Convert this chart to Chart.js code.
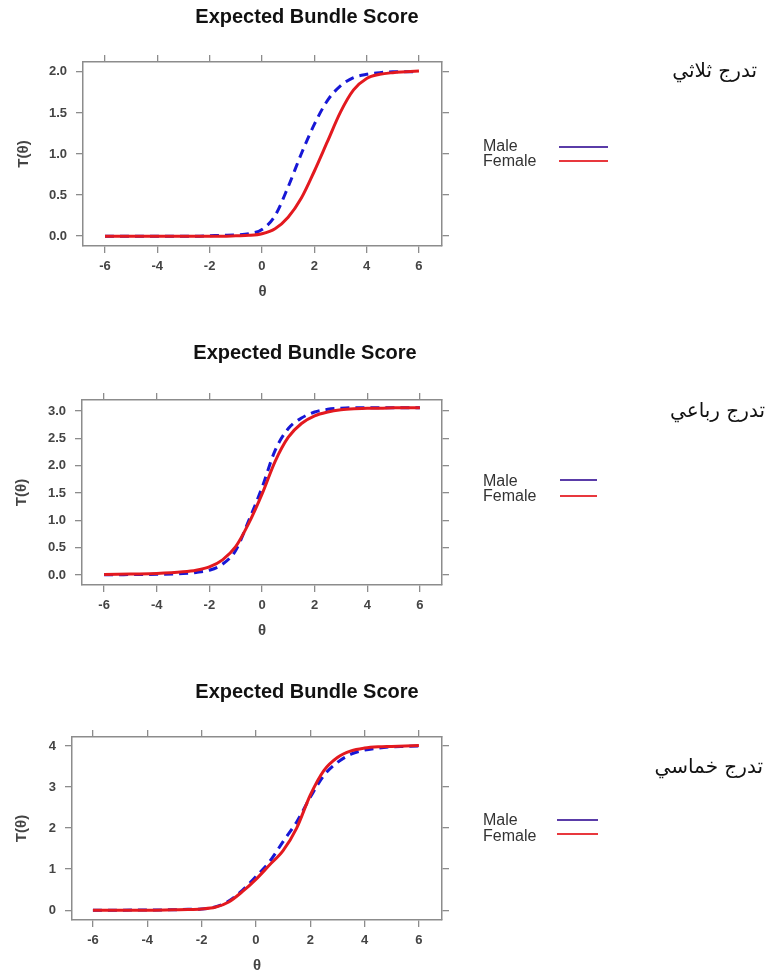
<!DOCTYPE html>
<html>
<head>
<meta charset="utf-8">
<script src="https://cdn.jsdelivr.net/npm/chart.js@4.4.1/dist/chart.umd.min.js"></script>
<style>
    html, body { margin: 0; padding: 0; background: #fff; overflow: hidden; }
    body { width: 768px; height: 972px; position: relative; }
    canvas { position: absolute; left: 0; }
</style>
</head>
<body>
<canvas id="c1" width="768" height="320" style="top:0px"></canvas>
<canvas id="c2" width="768" height="320" style="top:330px"></canvas>
<canvas id="c3" width="768" height="320" style="top:665px"></canvas>

<script>
// θ grid shared by every curve
const theta = [-6, -5, -4, -3, -2.5, -2, -1.5, -1, -0.5, 0, 0.5, 1, 1.5, 2, 2.5, 3, 3.5, 4, 4.5, 5, 5.5, 6];

// تدرج ثلاثي (max 2)
const male3   = [0, 0, 0, 0, 0, 0.005, 0.01, 0.015, 0.03, 0.08, 0.25, 0.6, 1.0, 1.36, 1.65, 1.83, 1.93, 1.97, 1.99, 2.0, 2.0, 2.0];
const female3 = [0, 0, 0, 0, 0, 0, 0, 0.005, 0.01, 0.03, 0.09, 0.23, 0.46, 0.79, 1.15, 1.51, 1.78, 1.92, 1.97, 1.99, 2.0, 2.01];

// تدرج رباعي (max ~3)
const male4   = [0.005, 0.01, 0.015, 0.03, 0.05, 0.09, 0.2, 0.45, 1.0, 1.6, 2.28, 2.68, 2.87, 2.98, 3.03, 3.05, 3.06, 3.06, 3.06, 3.06, 3.06, 3.06];
const female4 = [0.01, 0.02, 0.03, 0.06, 0.09, 0.15, 0.28, 0.52, 0.95, 1.48, 2.08, 2.52, 2.77, 2.91, 2.98, 3.02, 3.04, 3.05, 3.05, 3.06, 3.06, 3.06];

// تدرج خماسي (max 4)
const male5   = [0, 0, 0.005, 0.01, 0.02, 0.03, 0.08, 0.22, 0.48, 0.82, 1.18, 1.67, 2.15, 2.75, 3.28, 3.6, 3.8, 3.9, 3.95, 3.98, 3.99, 4.0];
const female5 = [0, 0, 0, 0.01, 0.015, 0.03, 0.07, 0.2, 0.45, 0.75, 1.1, 1.45, 2.0, 2.8, 3.4, 3.72, 3.88, 3.95, 3.98, 3.99, 4.0, 4.01];

const seriesNames = ["Male", "Female"];
const xTicks = [-6, -4, -2, 0, 2, 4, 6];
const yTicks3 = [0, 0.5, 1, 1.5, 2];
const yTicks4 = [0, 0.5, 1, 1.5, 2, 2.5, 3];
const yTicks5 = [0, 1, 2, 3, 4];

const FONT = '"Liberation Sans", Arial, sans-serif';
const BOX = "#8c8c8c";

// title, legend and the arabic label
const extras = {
    id: "extras",
    afterDraw(chart, args, o) {
        const ctx = chart.ctx;
        ctx.save();
        ctx.textBaseline = "middle";

        ctx.fillStyle = "#111";
        ctx.font = "bold 20px " + FONT;
        ctx.textAlign = "center";
        ctx.fillText(o.title, o.titleX, o.titleY);

        ctx.font = "16px " + FONT;
        ctx.textAlign = "left";
        seriesNames.forEach((name, i) => {
            ctx.fillStyle = "#333";
            ctx.fillText(name, o.legendX, o.legendTextY[i]);
            ctx.strokeStyle = ["#5a3ca8", "#e8383d"][i];
            ctx.lineWidth = 2;
            ctx.beginPath();
            ctx.moveTo(o.lineX[0], o.legendLineY[i]);
            ctx.lineTo(o.lineX[1], o.legendLineY[i]);
            ctx.stroke();
        });

        ctx.fillStyle = "#111";
        ctx.font = "20px \"DejaVu Sans\", sans-serif";
        ctx.textAlign = "right";
        ctx.fillText(o.label, o.labelX, o.labelY);
        ctx.restore();
    }
};

function fixTicks(vals) {
    return axis => { axis.ticks = vals.map(v => ({ value: v })); };
}

function buildScales(p) {
    const grid = { drawOnChartArea: false, drawTicks: true, tickLength: 7, color: BOX, lineWidth: 1.3 };
    const border = { display: true, color: BOX, width: 1.5 };
    const tickFont = { family: FONT, size: 13, weight: "bold" };
    const titleFont = { family: FONT, size: 15, weight: "bold" };
    return {
        x: {
            type: "linear", position: "bottom", min: p.xMin, max: p.xMax, grid, border,
            ticks: { font: tickFont, color: "#444", padding: 6, maxRotation: 0, callback: v => String(v) },
            afterBuildTicks: fixTicks(xTicks),
            title: { display: true, text: "θ", font: titleFont, color: "#444", padding: 0 },
            afterFit: s => { s.height = 55; }
        },
        xTop: {
            type: "linear", axis: "x", position: "top", min: p.xMin, max: p.xMax, grid, border,
            ticks: { display: false },
            afterBuildTicks: fixTicks(xTicks),
            afterFit: s => { s.height = 7; }
        },
        y: {
            type: "linear", position: "left", min: p.yMin, max: p.yMax, grid, border,
            ticks: { font: tickFont, color: "#444", padding: 9, callback: v => v.toFixed(p.dec) },
            afterBuildTicks: fixTicks(p.yTicks),
            title: { display: true, text: "T(θ)", font: titleFont, color: "#444", padding: 0 },
            afterFit: s => { s.width = p.yW; }
        },
        yRight: {
            type: "linear", axis: "y", position: "right", min: p.yMin, max: p.yMax, grid, border,
            ticks: { display: false },
            afterBuildTicks: fixTicks(p.yTicks),
            afterFit: s => { s.width = 7; }
        }
    };
}

const panels = [
    {
        id: "c1", male: male3, female: female3, yTicks: yTicks3, dec: 1,
        xMin: -6.84, xMax: 6.88, yMin: -0.12, yMax: 2.12, yW: 68,
        padding: { left: 15, right: 319, top: 55, bottom: 19 },
        extras: {
            title: "Expected Bundle Score", titleX: 307, titleY: 17,
            legendX: 483, legendTextY: [147, 162], legendLineY: [147, 161], lineX: [559, 608],
            label: "تدرج ثلاثي", labelX: 757, labelY: 72
        }
    },
    {
        id: "c2", male: male4, female: female4, yTicks: yTicks4, dec: 1,
        xMin: -6.84, xMax: 6.84, yMin: -0.18, yMax: 3.2, yW: 69,
        padding: { left: 13, right: 319, top: 63, bottom: 10 },
        extras: {
            title: "Expected Bundle Score", titleX: 305, titleY: 23,
            legendX: 483, legendTextY: [152, 167], legendLineY: [150, 166], lineX: [560, 597],
            label: "تدرج رباعي", labelX: 765, labelY: 82
        }
    },
    {
        id: "c3", male: male5, female: female5, yTicks: yTicks5, dec: 0,
        xMin: -6.77, xMax: 6.85, yMin: -0.24, yMax: 4.22, yW: 59,
        padding: { left: 13, right: 319, top: 65, bottom: 10 },
        extras: {
            title: "Expected Bundle Score", titleX: 307, titleY: 27,
            legendX: 483, legendTextY: [156, 172], legendLineY: [155, 169], lineX: [557, 598],
            label: "تدرج خماسي", labelX: 763, labelY: 103
        }
    }
];

panels.forEach(p => {
    new Chart(document.getElementById(p.id), {
        type: "line",
        data: {
            datasets: [
                {
                    label: seriesNames[1],
                    data: theta.map((t, i) => ({ x: t, y: p.female[i] })),
                    borderColor: "#e3191f",
                    borderWidth: 3,
                    pointRadius: 0,
                    cubicInterpolationMode: "monotone",
                    xAxisID: "x", yAxisID: "y"
                },
                {
                    label: seriesNames[0],
                    data: theta.map((t, i) => ({ x: t, y: p.male[i] })),
                    borderColor: "#1717d6",
                    borderWidth: 3,
                    borderDash: [9, 6],
                    pointRadius: 0,
                    cubicInterpolationMode: "monotone",
                    xAxisID: "x", yAxisID: "y"
                }
            ]
        },
        options: {
            responsive: false,
            animation: false,
            layout: { padding: p.padding },
            plugins: {
                legend: { display: false },
                tooltip: { enabled: false },
                extras: p.extras
            },
            scales: buildScales(p)
        },
        plugins: [extras]
    });
});
</script>
</body>
</html>
